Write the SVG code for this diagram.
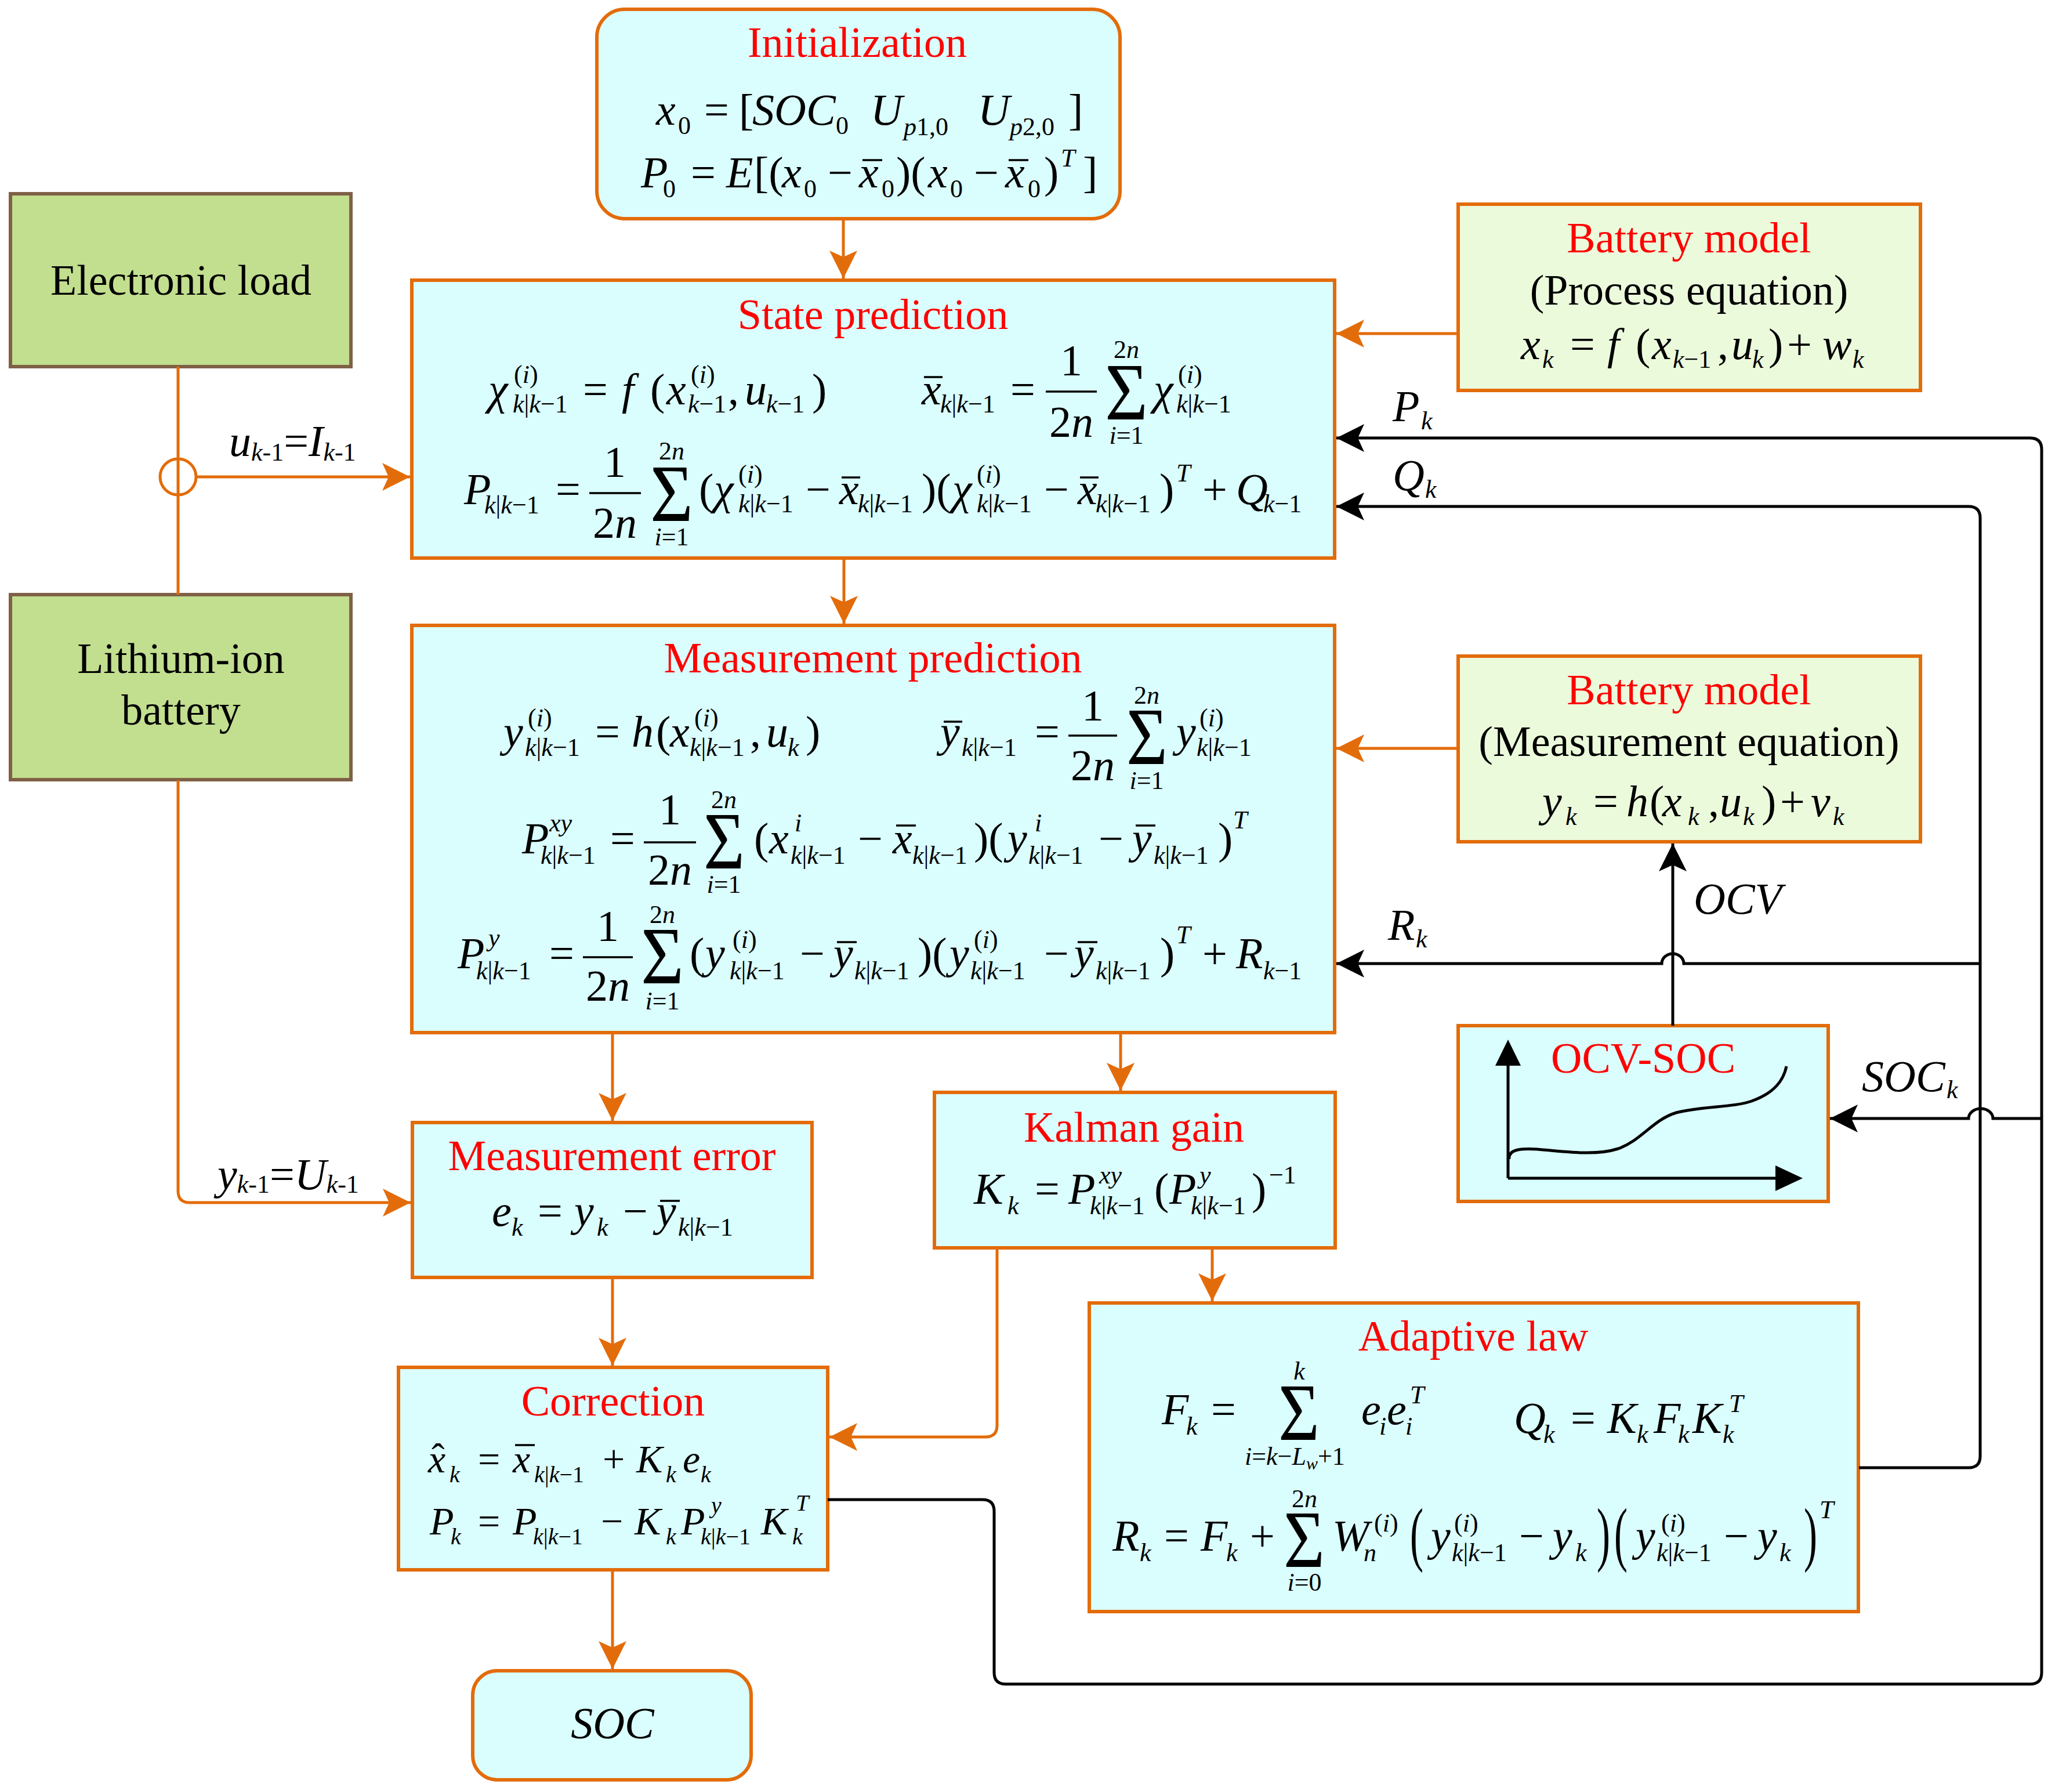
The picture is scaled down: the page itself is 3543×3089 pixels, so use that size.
<svg xmlns="http://www.w3.org/2000/svg" width="3543" height="3089" viewBox="0 0 3543 3089">
<defs>
<style>
.box{fill:#DAFDFD;stroke:#E36C0A;stroke-width:6}
.gbox{fill:#ECFADC;stroke:#E36C0A;stroke-width:6}
.lbox{fill:#C2DE8F;stroke:#7F6046;stroke-width:6}
.ttl{font-family:"Liberation Serif","Times New Roman",serif;font-size:74px;fill:#FF0000;text-anchor:middle}
.txt{font-family:"Liberation Serif","Times New Roman",serif;font-size:74px;fill:#000;text-anchor:middle}
.m{font-family:"Liberation Serif","Times New Roman",serif;font-style:italic;font-size:76px;fill:#000}
.cm{font-size:68px}
.s{font-size:44px}
.cs{font-size:40px}
.n{font-style:normal}
.c{text-anchor:middle}
.sg{font-style:normal;font-size:140px}
.bp{font-style:normal;font-size:122px}
.bar{stroke:#000;stroke-width:3.5}
.oc{fill:none;stroke:#E36C0A;stroke-width:5}
.bk{fill:none;stroke:#000;stroke-width:5}
</style>
<marker id="ao" markerUnits="userSpaceOnUse" viewBox="0 0 48 48" markerWidth="48" markerHeight="48" refX="48" refY="24" orient="auto"><path d="M0,0 L48,24 L0,48 L11,24 z" fill="#E36C0A"/></marker>
<marker id="ab" markerUnits="userSpaceOnUse" viewBox="0 0 48 48" markerWidth="48" markerHeight="48" refX="48" refY="24" orient="auto"><path d="M0,0 L48,24 L0,48 L11,24 z" fill="#000"/></marker>
</defs>
<rect width="3543" height="3089" fill="#fff"/>

<g id="initialization">
<rect class="box" x="1029" y="16" width="902" height="361" rx="48"/>
<text class="ttl" x="1478" y="98">Initialization</text>
<text class="m"><tspan x="1131" y="215">x</tspan><tspan class="s n" x="1169" y="231">0</tspan><tspan class="n" x="1214" y="215">=</tspan><tspan class="n" x="1274" y="215">[</tspan><tspan x="1297" y="215">SOC</tspan><tspan class="s n" x="1441" y="231">0</tspan><tspan x="1501" y="215">U</tspan><tspan class="s" x="1558" y="233">p<tspan class="n">1,0</tspan></tspan><tspan x="1686" y="215">U</tspan><tspan class="s" x="1741" y="233">p<tspan class="n">2,0</tspan></tspan><tspan class="n" x="1842" y="215">]</tspan></text>
<text class="m"><tspan x="1105" y="323">P</tspan><tspan class="s n" x="1143" y="340">0</tspan><tspan class="n" x="1191" y="323">=</tspan><tspan x="1252" y="323">E</tspan><tspan class="n" x="1300" y="323">[(</tspan><tspan x="1348" y="323">x</tspan><tspan class="s n" x="1386" y="340">0</tspan><tspan class="n" x="1427" y="323">−</tspan><tspan x="1481" y="323">x</tspan><tspan class="s n" x="1520" y="340">0</tspan><tspan class="n" x="1545" y="323">)(</tspan><tspan x="1600" y="323">x</tspan><tspan class="s n" x="1638" y="340">0</tspan><tspan class="n" x="1679" y="323">−</tspan><tspan x="1733" y="323">x</tspan><tspan class="s n" x="1772" y="340">0</tspan><tspan class="n" x="1800" y="323">)</tspan><tspan class="s" x="1829" y="287">T</tspan><tspan class="n" x="1867" y="323">]</tspan></text>
<line class="bar" x1="1487" y1="276" x2="1521" y2="276"/>
<line class="bar" x1="1739" y1="276" x2="1773" y2="276"/>
</g>

<g id="electronic-load">
<rect class="lbox" x="18" y="334" width="587" height="298"/>
<text class="txt" x="312" y="508">Electronic load</text>
</g>

<g id="lithium-ion-battery">
<rect class="lbox" x="18" y="1025" width="587" height="319"/>
<text class="txt" x="312" y="1160">Lithium-ion</text>
<text class="txt" x="312" y="1249">battery</text>
</g>

<g id="battery-model-process">
<rect class="gbox" x="2514" y="352" width="797" height="321"/>
<text class="ttl" x="2912" y="435">Battery model</text>
<text class="txt" x="2912" y="525">(Process equation)</text>
<text class="m"><tspan x="2622" y="619">x</tspan><tspan class="s" x="2659" y="634">k</tspan><tspan class="n" x="2707" y="619">=</tspan><tspan x="2771" y="619">f</tspan><tspan class="n" x="2820" y="619">(</tspan><tspan x="2848" y="619">x</tspan><tspan class="s" x="2884" y="634">k<tspan class="n">−1</tspan></tspan><tspan class="n" x="2961" y="619">,</tspan><tspan x="2985" y="619">u</tspan><tspan class="s" x="3021" y="634">k</tspan><tspan class="n" x="3049" y="619">)</tspan><tspan class="n" x="3081" y="619">+</tspan><tspan x="3142" y="619">w</tspan><tspan class="s" x="3194" y="634">k</tspan></text>
</g>

<g id="state-prediction">
<rect class="box" x="710" y="483" width="1591" height="479"/>
<text class="ttl" x="1505" y="567">State prediction</text>
<text class="m"><tspan x="842" y="697">χ</tspan><tspan class="s" x="886" y="660"><tspan class="n">(</tspan>i<tspan class="n">)</tspan></tspan><tspan class="s" x="884" y="711">k<tspan class="n">|</tspan>k<tspan class="n">−1</tspan></tspan><tspan class="n" x="1005" y="697">=</tspan><tspan x="1072" y="697">f</tspan><tspan class="n" x="1121" y="697">(</tspan><tspan x="1149" y="697">x</tspan><tspan class="s" x="1191" y="660"><tspan class="n">(</tspan>i<tspan class="n">)</tspan></tspan><tspan class="s" x="1186" y="711">k<tspan class="n">−1</tspan></tspan><tspan class="n" x="1255" y="697">,</tspan><tspan x="1284" y="697">u</tspan><tspan class="s" x="1321" y="711">k<tspan class="n">−1</tspan></tspan><tspan class="n" x="1400" y="697">)</tspan><tspan x="1589" y="697">x</tspan><tspan class="s" x="1621" y="711">k<tspan class="n">|</tspan>k<tspan class="n">−1</tspan></tspan><tspan class="n" x="1742" y="697">=</tspan><tspan x="1989" y="697">χ</tspan><tspan class="s" x="2031" y="660"><tspan class="n">(</tspan>i<tspan class="n">)</tspan></tspan><tspan class="s" x="2028" y="711">k<tspan class="n">|</tspan>k<tspan class="n">−1</tspan></tspan></text>
<line class="bar" x1="1593" y1="650" x2="1625" y2="650"/>
<line class="bar" x1="1803" y1="675" x2="1891" y2="675"/>
<text class="m n c" x="1847" y="647">1</text>
<text class="m c" x="1847" y="753"><tspan class="n">2</tspan>n</text>
<text class="m sg" x="1905" y="723" textLength="74" lengthAdjust="spacingAndGlyphs">Σ</text>
<text class="m s c" x="1942" y="617"><tspan class="n">2</tspan>n</text>
<text class="m s c" x="1942" y="765">i<tspan class="n">=1</tspan></text>
<text class="m"><tspan x="800" y="869">P</tspan><tspan class="s" x="835" y="885">k<tspan class="n">|</tspan>k<tspan class="n">−1</tspan></tspan><tspan class="n" x="958" y="869">=</tspan><tspan class="n" x="1205" y="869">(</tspan><tspan x="1231" y="869">χ</tspan><tspan class="s" x="1273" y="832"><tspan class="n">(</tspan>i<tspan class="n">)</tspan></tspan><tspan class="s" x="1273" y="883">k<tspan class="n">|</tspan>k<tspan class="n">−1</tspan></tspan><tspan class="n" x="1389" y="869">−</tspan><tspan x="1447" y="869">x</tspan><tspan class="s" x="1479" y="883">k<tspan class="n">|</tspan>k<tspan class="n">−1</tspan></tspan><tspan class="n" x="1589" y="869">)(</tspan><tspan x="1642" y="869">χ</tspan><tspan class="s" x="1684" y="832"><tspan class="n">(</tspan>i<tspan class="n">)</tspan></tspan><tspan class="s" x="1684" y="883">k<tspan class="n">|</tspan>k<tspan class="n">−1</tspan></tspan><tspan class="n" x="1800" y="869">−</tspan><tspan x="1858" y="869">x</tspan><tspan class="s" x="1889" y="883">k<tspan class="n">|</tspan>k<tspan class="n">−1</tspan></tspan><tspan class="n" x="1999" y="869">)</tspan><tspan class="s" x="2028" y="830">T</tspan><tspan class="n" x="2073" y="869">+</tspan><tspan x="2131" y="869">Q</tspan><tspan class="s" x="2178" y="883">k<tspan class="n">−1</tspan></tspan></text>
<line class="bar" x1="1451" y1="823" x2="1483" y2="823"/>
<line class="bar" x1="1862" y1="823" x2="1894" y2="823"/>
<line class="bar" x1="1016" y1="850" x2="1105" y2="850"/>
<text class="m n c" x="1060" y="822">1</text>
<text class="m c" x="1060" y="927"><tspan class="n">2</tspan>n</text>
<text class="m sg" x="1121" y="898" textLength="74" lengthAdjust="spacingAndGlyphs">Σ</text>
<text class="m s c" x="1158" y="792"><tspan class="n">2</tspan>n</text>
<text class="m s c" x="1158" y="940">i<tspan class="n">=1</tspan></text>
</g>

<g id="measurement-prediction">
<rect class="box" x="710" y="1078" width="1591" height="702"/>
<text class="ttl" x="1505" y="1159">Measurement prediction</text>
<text class="m"><tspan x="868" y="1287">y</tspan><tspan class="s" x="910" y="1252"><tspan class="n">(</tspan>i<tspan class="n">)</tspan></tspan><tspan class="s" x="905" y="1303">k<tspan class="n">|</tspan>k<tspan class="n">−1</tspan></tspan><tspan class="n" x="1026" y="1287">=</tspan><tspan x="1089" y="1287">h</tspan><tspan class="n" x="1131" y="1287">(</tspan><tspan x="1155" y="1287">x</tspan><tspan class="s" x="1197" y="1252"><tspan class="n">(</tspan>i<tspan class="n">)</tspan></tspan><tspan class="s" x="1189" y="1303">k<tspan class="n">|</tspan>k<tspan class="n">−1</tspan></tspan><tspan class="n" x="1293" y="1287">,</tspan><tspan x="1321" y="1287">u</tspan><tspan class="s" x="1358" y="1303">k</tspan><tspan class="n" x="1389" y="1287">)</tspan><tspan x="1621" y="1287">y</tspan><tspan class="s" x="1658" y="1303">k<tspan class="n">|</tspan>k<tspan class="n">−1</tspan></tspan><tspan class="n" x="1784" y="1287">=</tspan><tspan x="2028" y="1287">y</tspan><tspan class="s" x="2068" y="1252"><tspan class="n">(</tspan>i<tspan class="n">)</tspan></tspan><tspan class="s" x="2063" y="1303">k<tspan class="n">|</tspan>k<tspan class="n">−1</tspan></tspan></text>
<line class="bar" x1="1627" y1="1244" x2="1659" y2="1244"/>
<line class="bar" x1="1842" y1="1268" x2="1926" y2="1268"/>
<text class="m n c" x="1884" y="1242">1</text>
<text class="m c" x="1884" y="1345"><tspan class="n">2</tspan>n</text>
<text class="m sg" x="1942" y="1317" textLength="71" lengthAdjust="spacingAndGlyphs">Σ</text>
<text class="m s c" x="1977" y="1213"><tspan class="n">2</tspan>n</text>
<text class="m s c" x="1977" y="1360">i<tspan class="n">=1</tspan></text>
<text class="m"><tspan x="900" y="1471">P</tspan><tspan class="s" x="947" y="1433">xy</tspan><tspan class="s" x="932" y="1489">k<tspan class="n">|</tspan>k<tspan class="n">−1</tspan></tspan><tspan class="n" x="1052" y="1471">=</tspan><tspan class="n" x="1300" y="1471">(</tspan><tspan x="1326" y="1471">x</tspan><tspan class="s" x="1370" y="1433">i</tspan><tspan class="s" x="1363" y="1489">k<tspan class="n">|</tspan>k<tspan class="n">−1</tspan></tspan><tspan class="n" x="1479" y="1471">−</tspan><tspan x="1539" y="1471">x</tspan><tspan class="s" x="1573" y="1489">k<tspan class="n">|</tspan>k<tspan class="n">−1</tspan></tspan><tspan class="n" x="1679" y="1471">)(</tspan><tspan x="1737" y="1471">y</tspan><tspan class="s" x="1784" y="1433">i</tspan><tspan class="s" x="1773" y="1489">k<tspan class="n">|</tspan>k<tspan class="n">−1</tspan></tspan><tspan class="n" x="1894" y="1471">−</tspan><tspan x="1952" y="1471">y</tspan><tspan class="s" x="1989" y="1489">k<tspan class="n">|</tspan>k<tspan class="n">−1</tspan></tspan><tspan class="n" x="2100" y="1471">)</tspan><tspan class="s" x="2126" y="1428">T</tspan></text>
<line class="bar" x1="1545" y1="1423" x2="1579" y2="1423"/>
<line class="bar" x1="1958" y1="1423" x2="1992" y2="1423"/>
<line class="bar" x1="1110" y1="1452" x2="1200" y2="1452"/>
<text class="m n c" x="1155" y="1421">1</text>
<text class="m c" x="1155" y="1525"><tspan class="n">2</tspan>n</text>
<text class="m sg" x="1213" y="1497" textLength="71" lengthAdjust="spacingAndGlyphs">Σ</text>
<text class="m s c" x="1248" y="1393"><tspan class="n">2</tspan>n</text>
<text class="m s c" x="1248" y="1539">i<tspan class="n">=1</tspan></text>
<text class="m"><tspan x="789" y="1669">P</tspan><tspan class="s" x="842" y="1631">y</tspan><tspan class="s" x="821" y="1688">k<tspan class="n">|</tspan>k<tspan class="n">−1</tspan></tspan><tspan class="n" x="947" y="1669">=</tspan><tspan class="n" x="1189" y="1669">(</tspan><tspan x="1216" y="1669">y</tspan><tspan class="s" x="1263" y="1634"><tspan class="n">(</tspan>i<tspan class="n">)</tspan></tspan><tspan class="s" x="1258" y="1688">k<tspan class="n">|</tspan>k<tspan class="n">−1</tspan></tspan><tspan class="n" x="1379" y="1669">−</tspan><tspan x="1437" y="1669">y</tspan><tspan class="s" x="1473" y="1688">k<tspan class="n">|</tspan>k<tspan class="n">−1</tspan></tspan><tspan class="n" x="1582" y="1669">)(</tspan><tspan x="1637" y="1669">y</tspan><tspan class="s" x="1679" y="1634"><tspan class="n">(</tspan>i<tspan class="n">)</tspan></tspan><tspan class="s" x="1673" y="1688">k<tspan class="n">|</tspan>k<tspan class="n">−1</tspan></tspan><tspan class="n" x="1800" y="1669">−</tspan><tspan x="1852" y="1669">y</tspan><tspan class="s" x="1889" y="1688">k<tspan class="n">|</tspan>k<tspan class="n">−1</tspan></tspan><tspan class="n" x="2000" y="1669">)</tspan><tspan class="s" x="2028" y="1626">T</tspan><tspan class="n" x="2073" y="1669">+</tspan><tspan x="2131" y="1669">R</tspan><tspan class="s" x="2178" y="1688">k<tspan class="n">−1</tspan></tspan></text>
<line class="bar" x1="1443" y1="1624" x2="1477" y2="1624"/>
<line class="bar" x1="1858" y1="1624" x2="1892" y2="1624"/>
<line class="bar" x1="1005" y1="1650" x2="1091" y2="1650"/>
<text class="m n c" x="1048" y="1622">1</text>
<text class="m c" x="1048" y="1725"><tspan class="n">2</tspan>n</text>
<text class="m sg" x="1105" y="1695" textLength="74" lengthAdjust="spacingAndGlyphs">Σ</text>
<text class="m s c" x="1142" y="1591"><tspan class="n">2</tspan>n</text>
<text class="m s c" x="1142" y="1740">i<tspan class="n">=1</tspan></text>
</g>

<g id="battery-model-measurement">
<rect class="gbox" x="2514" y="1131" width="797" height="320"/>
<text class="ttl" x="2912" y="1214">Battery model</text>
<text class="txt" x="2912" y="1303">(Measurement equation)</text>
<text class="m"><tspan x="2659" y="1407">y</tspan><tspan class="s" x="2699" y="1422">k</tspan><tspan class="n" x="2747" y="1407">=</tspan><tspan x="2804" y="1407">h</tspan><tspan class="n" x="2844" y="1407">(</tspan><tspan x="2866" y="1407">x</tspan><tspan class="s" x="2910" y="1422">k</tspan><tspan class="n" x="2945" y="1407">,</tspan><tspan x="2965" y="1407">u</tspan><tspan class="s" x="3005" y="1422">k</tspan><tspan class="n" x="3037" y="1407">)</tspan><tspan class="n" x="3069" y="1407">+</tspan><tspan x="3122" y="1407">v</tspan><tspan class="s" x="3160" y="1422">k</tspan></text>
</g>

<g id="ocv-soc">
<rect class="box" x="2514" y="1768" width="638" height="303"/>
<text class="ttl" x="2833" y="1849">OCV-SOC</text>
<path class="bk" d="M2600,2031 V1830 M2600,2031 H3066"/>
<polygon points="2600,1792 2578,1837 2622,1837" fill="#000"/>
<polygon points="3108,2031 3061,2009 3061,2053" fill="#000"/>
<path class="bk" d="M2602,1998 C2600,1982 2620,1979 2650,1981 C2700,1985 2750,1993 2790,1980 C2830,1966 2850,1930 2890,1918 C2930,1907 2990,1909 3020,1898 C3060,1884 3075,1862 3080,1838"/>
</g>

<g id="measurement-error">
<rect class="box" x="711" y="1935" width="689" height="267"/>
<text class="ttl" x="1055" y="2017">Measurement error</text>
<text class="m"><tspan x="848" y="2113">e</tspan><tspan class="s" x="882" y="2130">k</tspan><tspan class="n" x="927" y="2113">=</tspan><tspan x="990" y="2113">y</tspan><tspan class="s" x="1029" y="2130">k</tspan><tspan class="n" x="1074" y="2113">−</tspan><tspan x="1132" y="2113">y</tspan><tspan class="s" x="1169" y="2130">k<tspan class="n">|</tspan>k<tspan class="n">−1</tspan></tspan></text>
<line class="bar" x1="1138" y1="2070" x2="1172" y2="2070"/>
</g>

<g id="kalman-gain">
<rect class="box" x="1611" y="1883" width="691" height="268"/>
<text class="ttl" x="1955" y="1968">Kalman gain</text>
<text class="m"><tspan x="1679" y="2075">K</tspan><tspan class="s" x="1737" y="2093">k</tspan><tspan class="n" x="1784" y="2075">=</tspan><tspan x="1842" y="2075">P</tspan><tspan class="s" x="1895" y="2040">xy</tspan><tspan class="s" x="1879" y="2093">k<tspan class="n">|</tspan>k<tspan class="n">−1</tspan></tspan><tspan class="n" x="1990" y="2075">(</tspan><tspan x="2016" y="2075">P</tspan><tspan class="s" x="2068" y="2040">y</tspan><tspan class="s" x="2053" y="2093">k<tspan class="n">|</tspan>k<tspan class="n">−1</tspan></tspan><tspan class="n" x="2158" y="2075">)</tspan><tspan class="s n" x="2188" y="2040">−1</tspan></text>
</g>

<g id="adaptive-law">
<rect class="box" x="1878" y="2246" width="1326" height="532"/>
<text class="ttl" x="2540" y="2328">Adaptive law</text>
<text class="m"><tspan x="2003" y="2455">F</tspan><tspan class="s" x="2045" y="2473">k</tspan><tspan class="n" x="2088" y="2455">=</tspan><tspan x="2347" y="2455">e</tspan><tspan class="s" x="2378" y="2473">i</tspan><tspan x="2391" y="2455">e</tspan><tspan class="s" x="2431" y="2419">T</tspan><tspan class="s" x="2423" y="2473">i</tspan><tspan x="2610" y="2470">Q</tspan><tspan class="s" x="2661" y="2487">k</tspan><tspan class="n" x="2708" y="2470">=</tspan><tspan x="2771" y="2470">K</tspan><tspan class="s" x="2822" y="2487">k</tspan><tspan x="2851" y="2470">F</tspan><tspan class="s" x="2893" y="2487">k</tspan><tspan x="2918" y="2470">K</tspan><tspan class="s" x="2981" y="2434">T</tspan><tspan class="s" x="2970" y="2487">k</tspan></text>
<text class="m sg" x="2204" y="2482" textLength="71" lengthAdjust="spacingAndGlyphs">Σ</text>
<text class="m s c" x="2240" y="2378">k</text>
<text class="m s" x="2146" y="2525">i<tspan class="n">=</tspan>k<tspan class="n">−</tspan>L<tspan dy="8" style="font-size:30px">w</tspan><tspan class="n" dy="-8">+1</tspan></text>
<text class="m"><tspan x="1918" y="2673">R</tspan><tspan class="s" x="1965" y="2691">k</tspan><tspan class="n" x="2007" y="2673">=</tspan><tspan x="2070" y="2673">F</tspan><tspan class="s" x="2114" y="2691">k</tspan><tspan class="n" x="2155" y="2673">+</tspan><tspan x="2297" y="2673">W</tspan><tspan class="s" x="2369" y="2640"><tspan class="n">(</tspan>i<tspan class="n">)</tspan></tspan><tspan class="s" x="2351" y="2691">n</tspan><tspan x="2467" y="2673">y</tspan><tspan class="s" x="2507" y="2640"><tspan class="n">(</tspan>i<tspan class="n">)</tspan></tspan><tspan class="s" x="2503" y="2691">k<tspan class="n">|</tspan>k<tspan class="n">−1</tspan></tspan><tspan class="n" x="2619" y="2673">−</tspan><tspan x="2677" y="2673">y</tspan><tspan class="s" x="2716" y="2691">k</tspan><tspan x="2820" y="2673">y</tspan><tspan class="s" x="2864" y="2640"><tspan class="n">(</tspan>i<tspan class="n">)</tspan></tspan><tspan class="s" x="2856" y="2691">k<tspan class="n">|</tspan>k<tspan class="n">−1</tspan></tspan><tspan class="n" x="2972" y="2673">−</tspan><tspan x="3030" y="2673">y</tspan><tspan class="s" x="3068" y="2691">k</tspan><tspan class="s" x="3137" y="2617">T</tspan></text>
<text class="m sg" x="2213" y="2701" textLength="71" lengthAdjust="spacingAndGlyphs">Σ</text>
<text class="m s c" x="2249" y="2598"><tspan class="n">2</tspan>n</text>
<text class="m s c" x="2249" y="2742">i<tspan class="n">=0</tspan></text>
<text class="m bp" x="2431" y="2685" textLength="23" lengthAdjust="spacingAndGlyphs">(</text>
<text class="m bp" x="2753" y="2685" textLength="23" lengthAdjust="spacingAndGlyphs">)</text>
<text class="m bp" x="2783" y="2685" textLength="23" lengthAdjust="spacingAndGlyphs">(</text>
<text class="m bp" x="3110" y="2685" textLength="23" lengthAdjust="spacingAndGlyphs">)</text>
</g>

<g id="correction">
<rect class="box" x="687" y="2357" width="740" height="349"/>
<text class="ttl" x="1057" y="2440">Correction</text>
<text class="m cm"><tspan x="738" y="2538">x</tspan><tspan class="cs" x="775" y="2555">k</tspan><tspan class="n" x="824" y="2538">=</tspan><tspan x="884" y="2538">x</tspan><tspan class="cs" x="921" y="2555">k<tspan class="n">|</tspan>k<tspan class="n">−1</tspan></tspan><tspan class="n" x="1039" y="2538">+</tspan><tspan x="1097" y="2538">K</tspan><tspan class="cs" x="1148" y="2555">k</tspan><tspan x="1177" y="2538">e</tspan><tspan class="cs" x="1208" y="2555">k</tspan></text>
<text class="m n" x="744" y="2535" style="font-size:68px">ˆ</text>
<line class="bar" x1="888" y1="2491" x2="922" y2="2491"/>
<text class="m cm"><tspan x="741" y="2645">P</tspan><tspan class="cs" x="777" y="2662">k</tspan><tspan class="n" x="824" y="2645">=</tspan><tspan x="884" y="2645">P</tspan><tspan class="cs" x="919" y="2662">k<tspan class="n">|</tspan>k<tspan class="n">−1</tspan></tspan><tspan class="n" x="1036" y="2645">−</tspan><tspan x="1094" y="2645">K</tspan><tspan class="cs" x="1148" y="2662">k</tspan><tspan x="1174" y="2645">P</tspan><tspan class="cs" x="1226" y="2608">y</tspan><tspan class="cs" x="1208" y="2662">k<tspan class="n">|</tspan>k<tspan class="n">−1</tspan></tspan><tspan x="1312" y="2645">K</tspan><tspan class="cs" x="1372" y="2604">T</tspan><tspan class="cs" x="1366" y="2662">k</tspan></text>
</g>

<g id="soc">
<rect class="box" x="815" y="2880" width="480" height="188" rx="42"/>
<text class="m c" x="1056" y="2996">SOC</text>
</g>

<g id="connectors">
<path class="oc" d="M1454,378 V480" marker-end="url(#ao)"/>
<path class="oc" d="M1455,962 V1075" marker-end="url(#ao)"/>
<path class="oc" d="M2514,575 H2304" marker-end="url(#ao)"/>
<path class="oc" d="M2514,1290 H2304" marker-end="url(#ao)"/>
<path class="oc" d="M1056,1780 V1932" marker-end="url(#ao)"/>
<path class="oc" d="M1932,1780 V1880" marker-end="url(#ao)"/>
<path class="oc" d="M1056,2202 V2354" marker-end="url(#ao)"/>
<path class="oc" d="M1719,2151 V2457 Q1719,2477 1699,2477 H1430" marker-end="url(#ao)"/>
<path class="oc" d="M2090,2151 V2243" marker-end="url(#ao)"/>
<path class="oc" d="M1056,2706 V2877" marker-end="url(#ao)"/>
<path class="oc" d="M307,632 V1025"/>
<circle class="oc" cx="307" cy="822" r="31"/>
<path class="oc" d="M338,822 H707" marker-end="url(#ao)"/>
<path class="oc" d="M307,1345 V2053 Q307,2073 327,2073 H708" marker-end="url(#ao)"/>
<path class="bk" d="M1427,2585 H1694 Q1714,2585 1714,2605 V2883 Q1714,2903 1734,2903 H3500 Q3520,2903 3520,2883 V775 Q3520,755 3500,755 H2304" marker-end="url(#ab)"/>
<path class="bk" d="M3520,1928 H3436 A21,17 0 0 0 3394,1928 H3155" marker-end="url(#ab)"/>
<path class="bk" d="M3205,2530 H3394 Q3414,2530 3414,2510 V893 Q3414,873 3394,873 H2304" marker-end="url(#ab)"/>
<path class="bk" d="M3414,1661 H2903 A19,17 0 0 0 2865,1661 H2304" marker-end="url(#ab)"/>
<path class="bk" d="M2884,1768 V1454" marker-end="url(#ab)"/>
<text class="m" x="395" y="786">u<tspan class="s" y="794">k<tspan class="n">-1</tspan></tspan><tspan class="n" y="786">=</tspan>I<tspan class="s" y="794">k<tspan class="n">-1</tspan></tspan></text>
<text class="m" x="375" y="2050">y<tspan class="s" y="2056">k<tspan class="n">-1</tspan></tspan><tspan class="n" y="2050">=</tspan>U<tspan class="s" y="2056">k<tspan class="n">-1</tspan></tspan></text>
<text class="m"><tspan x="2401" y="726">P</tspan><tspan class="s" x="2450" y="740">k</tspan></text>
<text class="m"><tspan x="2401" y="845">Q</tspan><tspan class="s" x="2457" y="858">k</tspan></text>
<text class="m"><tspan x="2393" y="1620">R</tspan><tspan class="s" x="2441" y="1633">k</tspan></text>
<text class="m" x="2920" y="1575">OCV</text>
<text class="m"><tspan x="3210" y="1881">SOC</tspan><tspan class="s" x="3356" y="1893">k</tspan></text>
</g>
</svg>
